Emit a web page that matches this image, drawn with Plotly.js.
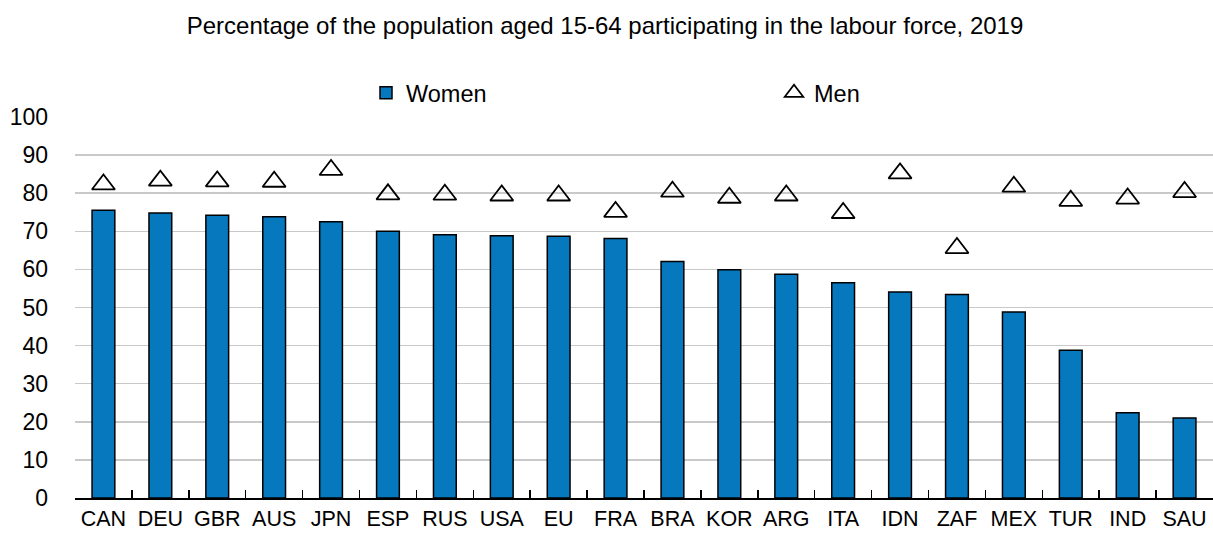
<!DOCTYPE html>
<html>
<head>
<meta charset="utf-8">
<script src="https://cdn.plot.ly/plotly-3.0.1.min.js"></script>
<style>html,body{margin:0;padding:0;background:#fff;}#chart{width:1213px;height:534px;}</style>
</head>
<body>
<div id="chart"></div>
<script>
const countries = ["CAN","DEU","GBR","AUS","JPN","ESP","RUS","USA","EU","FRA","BRA","KOR","ARG","ITA","IDN","ZAF","MEX","TUR","IND","SAU"];
const women = [75.5,74.8,74.2,73.8,72.5,70.0,69.1,68.8,68.7,68.1,62.1,59.9,58.7,56.5,54.1,53.4,48.8,38.8,22.4,21.0];
const men = [82.3,83.3,83.1,83.0,86.1,79.7,79.6,79.4,79.4,75.1,80.4,78.8,79.4,74.8,85.2,65.6,81.7,78.0,78.6,80.3];
const yTicks = [0,10,20,30,40,50,60,70,80,90,100];
const titleText = "Percentage of the population aged 15-64 participating in the labour force, 2019";

const FONT = "Liberation Sans, Arial, sans-serif";
const W = 1213, H = 534;

const traces = [
  {
    type: "bar", name: "Women", x: countries, y: women,
    marker: {color: "#0679be", line: {color: "#000000", width: 1.5}},
    legend: "legend", hoverinfo: "x+y"
  },
  {
    type: "scatter", mode: "markers", name: "Men", x: countries, y: men,
    marker: {symbol: "triangle-up-open", size: 20, color: "#000000", line: {color: "#000000", width: 1.8}},
    legend: "legend2", hoverinfo: "x+y"
  }
];

const layout = {
  width: W, height: H,
  paper_bgcolor: "#ffffff", plot_bgcolor: "#ffffff",
  font: {family: FONT, color: "#000000", size: 22},
  margin: {l: 75, r: 0, t: 117, b: 36},
  title: {text: titleText, font: {family: FONT, size: 24, color: "#000000"},
          x: 605/W, xref: "container", xanchor: "center", y: 1 - 26/H, yref: "container", yanchor: "middle"},
  bargap: 0.6,
  showlegend: true,
  legend: {orientation: "h", xref: "container", yref: "container", x: 366/W, y: 1 - 93/H,
           xanchor: "left", yanchor: "middle", font: {family: FONT, size: 23.5, color: "#000"},
           bgcolor: "rgba(0,0,0,0)"},
  legend2: {orientation: "h", xref: "container", yref: "container", x: 774/W, y: 1 - 93/H,
           xanchor: "left", yanchor: "middle", font: {family: FONT, size: 23.5, color: "#000"},
           bgcolor: "rgba(0,0,0,0)"},
  xaxis: {
    type: "category", categoryorder: "array", categoryarray: countries,
    range: [-0.5, countries.length - 0.5], autorange: false,
    showline: true, linecolor: "#000000", linewidth: 2,
    ticks: "inside", tickson: "boundaries", ticklen: 8, tickwidth: 1.5, tickcolor: "#000",
    tickangle: 0, automargin: false,
    showgrid: false, zeroline: false,
    tickfont: {family: FONT, size: 21.5, color: "#000"},
    fixedrange: true
  },
  yaxis: {
    range: [0, 100], tickvals: yTicks, ticktext: yTicks.map(String),
    showline: false, ticks: "", showgrid: true, gridcolor: "#c9c9c9", gridwidth: 1.5,
    zeroline: false, ticklabelstandoff: 26, automargin: false,
    tickfont: {family: FONT, size: 23, color: "#000"},
    fixedrange: true
  }
};

Plotly.newPlot("chart", traces, layout, {displayModeBar: false, staticPlot: true});
</script>
</body>
</html>
